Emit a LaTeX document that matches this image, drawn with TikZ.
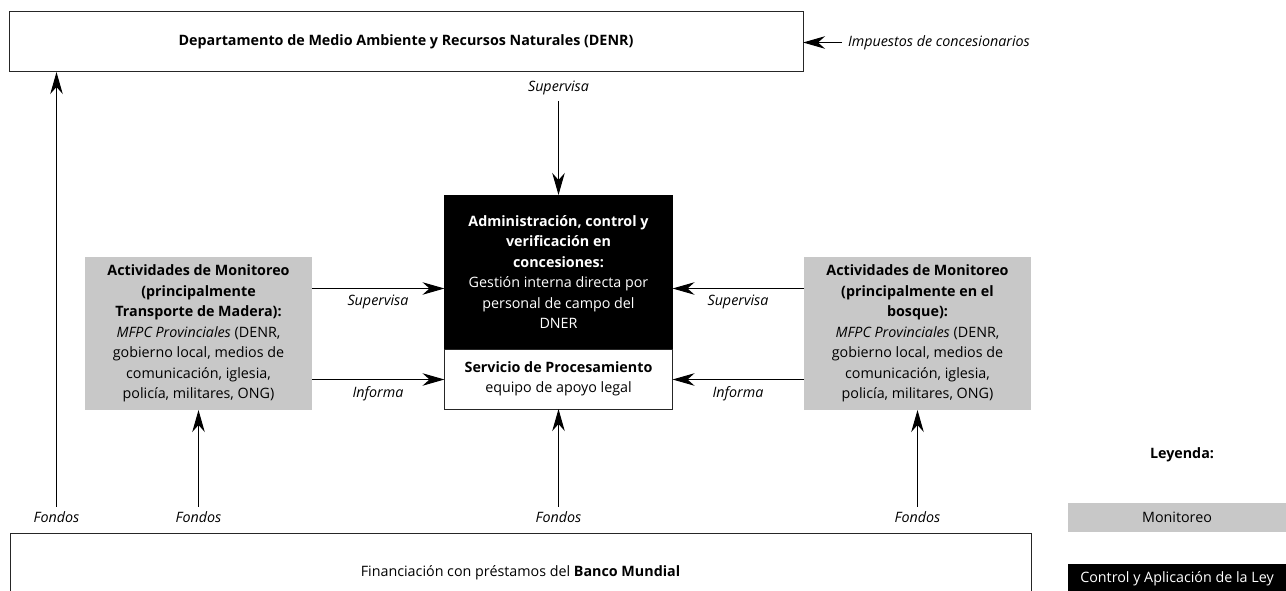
\documentclass[tikz,border=0pt]{standalone}
\usepackage{fontspec}
\setmainfont{Open Sans}
\usetikzlibrary{arrows.meta}
\definecolor{mongray}{RGB}{200,200,200}
\begin{document}
\begin{tikzpicture}[x=1pt,y=-1pt,
  every node/.style={font=\fontsize{14.3}{20.5}\selectfont, inner sep=0pt, outer sep=0pt},
  wbox/.style={draw=black!85, line width=1pt, fill=white},
  gbox/.style={fill=mongray, align=center, minimum width=227pt, minimum height=153pt},
  lbl/.style={font=\fontsize{14.3}{17}\selectfont\itshape},
  arr/.style={-{Stealth[length=22pt,width=12.5pt,inset=7pt]}, line width=1.1pt},
]
\useasboundingbox (0,0) rectangle (1286,591);
\clip (0,0) rectangle (1286,591);

% top box
\node[wbox, minimum width=794pt, minimum height=60pt] (denr) at (406,42)
  {\bfseries Departamento de Medio Ambiente y Recursos Naturales (DENR)};
\node[lbl, anchor=west] (imp) at (848,42.5) {Impuestos de concesionarios};
\draw[arr, shorten <=6pt] (imp.west) -- (denr.east |- imp.west);

% central boxes
\node[fill=black, draw=black, minimum width=228pt, minimum height=154pt, align=center, text=white] (adm) at (558.5,272)
  {\bfseries Administración, control y\\ \bfseries verificación en\\ \bfseries concesiones:\\
   Gestión interna directa por\\ personal de campo del\\ DNER};
\node[wbox, minimum width=228pt, minimum height=60pt, align=center, anchor=north] (proc) at (adm.south)
  {\bfseries Servicio de Procesamiento\\ equipo de apoyo legal};

\node[lbl] (sup) at (558.5,88) {Supervisa};
\draw[arr, shorten <=6pt] (sup.south) -- (adm.north);

% side boxes
\node[gbox] (lg) at (198.5,333.5)
  {\bfseries Actividades de Monitoreo\\ \bfseries (principalmente\\ \bfseries Transporte de Madera):\\
   \textit{MFPC Provinciales} (DENR,\\ gobierno local, medios de\\ comunicación, iglesia,\\ policía, militares, ONG)};
\node[gbox] (rg) at (917.5,333.5)
  {\bfseries Actividades de Monitoreo\\ \bfseries (principalmente en el\\ \bfseries bosque):\\
   \textit{MFPC Provinciales} (DENR,\\ gobierno local, medios de\\ comunicación, iglesia,\\ policía, militares, ONG)};

\coordinate (ys) at (0,288.5);
\coordinate (yi) at (0,379.5);
\draw[arr] (lg.east |- ys) -- (adm.west |- ys);
\draw[arr] (lg.east |- yi) -- (proc.west |- yi);
\draw[arr] (rg.west |- ys) -- (adm.east |- ys);
\draw[arr] (rg.west |- yi) -- (proc.east |- yi);
\node[lbl] (ls) at (378,302) {Supervisa};
\node[lbl] (li) at (378,394) {Informa};
\node[lbl] (rs) at (738,302) {Supervisa};
\node[lbl] (ri) at (738,394) {Informa};

% funds
\node[lbl] (f1) at (56.5,517) {Fondos};
\node[lbl] (f2) at (198.5,517) {Fondos};
\node[lbl] (f3) at (558.5,517) {Fondos};
\node[lbl] (f4) at (917.5,517) {Fondos};
\draw[arr, shorten <=5pt] (f1.north) -- (f1.north |- denr.south);
\draw[arr, shorten <=5pt] (f2.north) -- (lg.south);
\draw[arr, shorten <=5pt] (f3.north) -- (proc.south);
\draw[arr, shorten <=5pt] (f4.north) -- (rg.south);

% bottom box
\node[wbox, minimum width=1021pt, minimum height=80pt, anchor=north] (wb) at (520.5,533)
  {Financiación con préstamos del \textbf{Banco Mundial}};

% legend
\node[font=\fontsize{14.3}{17}\selectfont\bfseries] (ley) at (1182,455) {Leyenda:};
\node[fill=mongray, minimum width=218pt, minimum height=29pt] (lm) at (1177,517.5) {Monitoreo};
\node[fill=black, text=white, minimum width=218pt, minimum height=30pt, anchor=north] (lc) at (1177,564)
  {Control y Aplicación de la Ley};
\end{tikzpicture}
\end{document}
